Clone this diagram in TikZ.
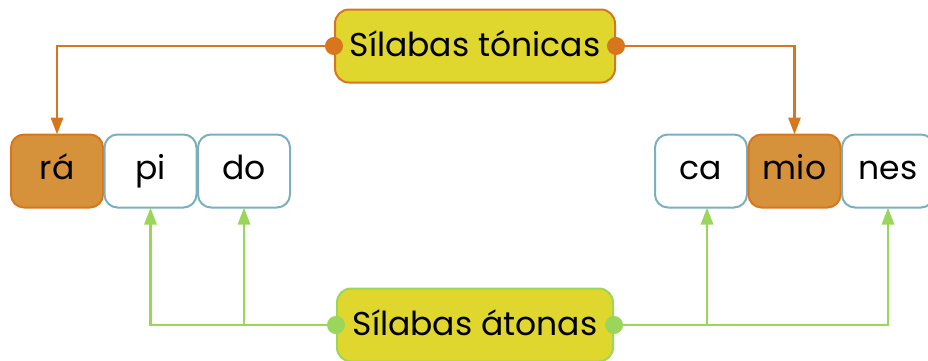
\documentclass[tikz,border=0pt]{standalone}
\usepackage{fontspec}
\setmainfont{Poppins}
\usetikzlibrary{arrows.meta, positioning}
\definecolor{TonicLine}{HTML}{D8761E}
\definecolor{TonicFill}{HTML}{D6923A}
\definecolor{TemaFill}{HTML}{E0D72E}
\definecolor{SilabaBlue}{HTML}{7AB0BE}
\definecolor{AtonaGreen}{HTML}{9AD65A}

\begin{document}
\begin{tikzpicture}[x=1pt, y=-1pt, line width=2.8pt,
    tema/.style={draw, fill=TemaFill, rounded corners=14pt, line width=2pt,
      minimum height=73pt, inner sep=0pt, text height=25pt, text depth=5pt,
      font=\fontsize{33}{33}\selectfont},
    silaba/.style={draw=SilabaBlue, fill=white, rounded corners=13pt, line width=2pt,
      minimum width=92pt, minimum height=73pt, inner sep=0pt, outer sep=0pt,
      text height=22pt, text depth=6pt, font=\fontsize{33}{33}\selectfont},
    tonica/.style={silaba, draw=TonicLine, fill=TonicFill},
    enlace/.style={{Circle[length=18pt]}-{Triangle[length=17pt, width=12pt]}, shorten <=-9pt}]
    \useasboundingbox (0,0) rectangle (928,360);
    % Main labels
    \node [tema, draw=TonicLine, minimum width=280pt] (tonicas) at (475,46) {Sílabas tónicas};
    \node [tema, draw=AtonaGreen, minimum width=276pt] (atonas) at (475,325) {Sílabas átonas};
    % Word: rápido
    \node [tonica] (ra) at (57,171) {rá};
    \node [silaba, right=1.5pt of ra] (pi) {pi};
    \node [silaba, right=1.5pt of pi] (do) {do};
    % Word: camiones
    \node [silaba] (ca) at (701,171) {ca};
    \node [tonica, right=1.5pt of ca] (mio) {mio};
    \node [silaba, right=1.5pt of mio] (nes) {nes};
    % Stressed syllables
    \draw [enlace, TonicLine] (tonicas.west) -| (ra.north);
    \draw [enlace, TonicLine] (tonicas.east) -| (mio.north);
    % Unstressed syllables
    \draw [enlace, AtonaGreen] (atonas.west) -| (pi.south);
    \draw [-{Triangle[length=17pt, width=12pt]}, AtonaGreen] (do.south |- atonas.west) -- (do.south);
    \draw [enlace, AtonaGreen] (atonas.east) -| (nes.south);
    \draw [-{Triangle[length=17pt, width=12pt]}, AtonaGreen] ([xshift=6pt]ca.south |- atonas.east) -- ([xshift=6pt]ca.south);
\end{tikzpicture}
\end{document}
